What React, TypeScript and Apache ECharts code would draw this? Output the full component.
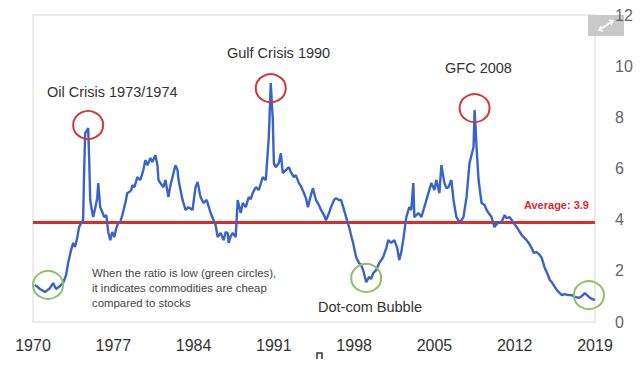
import React, { useEffect, useRef } from "react";
import * as echarts from "echarts";

// Commodity / stock ratio: [year, ratio]
const seventies: [number, number][] = [
  [1970.17, 1.45], [1970.61, 1.29], [1971.05, 1.17], [1971.49, 1.33], [1971.75, 1.52],
  [1972.01, 1.29], [1972.36, 1.41], [1972.62, 1.52], [1972.89, 1.84], [1973.06, 2.3],
  [1973.32, 2.81], [1973.5, 3.09], [1973.67, 2.93], [1973.85, 3.28], [1974.02, 3.71],
  [1974.2, 3.87], [1974.37, 3.98], [1974.46, 5.94], [1974.55, 7.38], [1974.72, 7.5],
  [1974.81, 7.58], [1974.9, 6.33], [1974.99, 4.77], [1975.16, 4.3], [1975.25, 4.1],
  [1975.42, 4.45], [1975.6, 4.84], [1975.69, 5.43], [1975.86, 4.49], [1976.04, 4.3],
  [1976.21, 4.1], [1976.39, 4.18], [1976.56, 3.52], [1976.74, 3.2], [1976.91, 3.52],
  [1977.09, 3.32], [1977.26, 3.67], [1977.44, 3.87], [1977.61, 3.91], [1977.79, 4.18],
  [1978.05, 4.65], [1978.22, 5.04], [1978.4, 5.08], [1978.57, 5.16], [1978.66, 5.35],
  [1978.84, 5.27], [1979.1, 5.66], [1979.36, 5.55], [1979.62, 5.94], [1979.8, 6.33],
  [1979.97, 6.13],
];
const eighties: [number, number][] = [
  [1980.24, 6.41], [1980.41, 6.25], [1980.67, 6.52], [1980.85, 6.13], [1980.94, 5.55],
  [1981.11, 5.43], [1981.37, 5.27], [1981.55, 5.55], [1981.81, 4.88], [1981.99, 5.35],
  [1982.16, 5.66], [1982.42, 6.13], [1982.6, 5.94], [1982.69, 5.55], [1982.86, 5.16],
  [1983.04, 4.77], [1983.3, 4.38], [1983.56, 4.49], [1983.91, 4.38], [1984.17, 5.27],
  [1984.35, 5.47], [1984.61, 4.88], [1984.87, 4.65], [1985.14, 4.77], [1985.49, 4.26],
  [1985.75, 3.98], [1985.92, 3.79], [1986.1, 3.32], [1986.36, 3.48], [1986.62, 3.2],
  [1986.8, 3.52], [1986.97, 3.48], [1987.06, 3.09], [1987.24, 3.36], [1987.41, 3.48],
  [1987.67, 3.32], [1987.85, 4.77], [1988.11, 4.26], [1988.29, 4.65], [1988.55, 4.49],
  [1988.81, 4.88], [1988.99, 4.8], [1989.16, 5.04], [1989.42, 5.27], [1989.69, 5.16],
];
const nineties: [number, number][] = [
  [1990.03, 5.66], [1990.3, 5.55], [1990.56, 7.23], [1990.73, 9.34], [1990.91, 7.89],
  [1991.0, 6.21], [1991.17, 6.05], [1991.43, 6.21], [1991.61, 6.6], [1991.78, 5.82],
  [1992.05, 5.94], [1992.31, 6.05], [1992.48, 5.86], [1992.75, 5.66], [1992.92, 5.74],
  [1993.18, 5.43], [1993.36, 5.31], [1993.62, 5.04], [1993.8, 4.84], [1993.97, 4.49],
  [1994.23, 4.96], [1994.41, 5.23], [1994.67, 4.77], [1994.93, 4.57], [1995.11, 4.38],
  [1995.37, 4.18], [1995.55, 3.98], [1995.81, 4.26], [1995.98, 4.49], [1996.25, 4.77],
  [1996.42, 4.84], [1996.68, 4.77], [1996.86, 4.77], [1997.12, 4.38], [1997.3, 4.1],
  [1997.56, 3.71], [1997.73, 3.4], [1997.91, 3.09], [1998.17, 2.54], [1998.43, 2.3],
  [1998.61, 2.23], [1998.78, 2.03], [1998.96, 1.72], [1999.05, 1.56], [1999.31, 1.76],
  [1999.48, 1.68], [1999.66, 1.91], [1999.92, 2.03],
];
const noughties: [number, number][] = [
  [2000.18, 2.3], [2000.36, 2.42], [2000.53, 2.54], [2000.8, 2.89], [2000.97, 3.2],
  [2001.23, 3.09], [2001.5, 3.2], [2001.76, 2.89], [2001.93, 2.42], [2002.11, 2.73],
  [2002.28, 3.2], [2002.55, 4.1], [2002.81, 4.49], [2002.98, 4.38], [2003.16, 5.43],
  [2003.25, 4.1], [2003.42, 4.18], [2003.6, 4.26], [2003.86, 4.1], [2004.12, 4.49],
  [2004.47, 5.04], [2004.73, 5.43], [2005.0, 5.16], [2005.17, 5.55], [2005.43, 5.04],
  [2005.61, 6.13], [2005.87, 5.43], [2006.05, 5.23], [2006.22, 5.27], [2006.48, 5.55],
  [2006.66, 4.77], [2006.92, 4.1], [2007.18, 3.91], [2007.36, 3.98], [2007.53, 4.1],
  [2007.8, 4.88], [2008.06, 6.21], [2008.23, 6.52], [2008.41, 6.84], [2008.5, 8.28],
  [2008.58, 7.7], [2008.67, 6.84], [2008.85, 5.55], [2009.11, 4.65], [2009.37, 4.57],
  [2009.55, 4.38], [2009.72, 4.26], [2009.98, 4.1],
];
const tens: [number, number][] = [
  [2010.24, 3.71], [2010.42, 3.83], [2010.59, 3.87], [2010.86, 3.91], [2011.12, 4.18],
  [2011.29, 4.06], [2011.56, 4.1], [2011.91, 3.87], [2012.17, 3.71], [2012.34, 3.59],
  [2012.61, 3.4], [2012.78, 3.32], [2013.04, 3.2], [2013.22, 3.09], [2013.48, 2.89],
  [2013.66, 2.7], [2013.92, 2.73], [2014.18, 2.62], [2014.36, 2.5], [2014.62, 2.11],
  [2014.79, 1.95], [2015.06, 1.64], [2015.23, 1.56], [2015.49, 1.37], [2015.67, 1.25],
  [2015.84, 1.17], [2016.11, 1.05], [2016.37, 1.09], [2016.63, 1.05], [2016.98, 1.05],
  [2017.24, 0.98], [2017.59, 0.94], [2017.86, 1.02], [2018.12, 1.13], [2018.47, 0.98],
  [2018.73, 0.9], [2019.0, 0.86],
];

const yearTicks = [1970, 1977, 1984, 1991, 1998, 2005, 2012, 2019];
const averageRatio = 3.9;

// Annotation anchors in data space: [year, ratio]
const peakCircles: [number, number][] = [[1974.81, 7.7], [1990.73, 9.14], [2008.5, 8.36]];
const lowCircles: [number, number][] = [[1971.31, 1.45], [1999.05, 1.72], [2018.47, 1.05]];

const FONT = "'Liberation Sans', Arial, sans-serif";

export default function App() {
  const ref = useRef<HTMLDivElement>(null);
  useEffect(() => {
    if (!ref.current) return;
    const chart = echarts.init(ref.current, null, { renderer: "svg" });
    const data = [...seventies, ...eighties, ...nineties, ...noughties, ...tens];
    const circle = (c: [number, number], color: string) => ({
      coord: c,
      symbol: "circle",
      symbolSize: [30, 28],
      itemStyle: { color: "rgba(0,0,0,0)", borderColor: color, borderWidth: 2 },
      label: { show: false },
    });
    chart.setOption({
      animation: false,
      backgroundColor: "#ffffff",
      grid: {
        left: 33,
        right: 45,
        top: 15,
        bottom: 47,
        show: true,
        borderColor: "#ebebeb",
        borderWidth: 2,
        backgroundColor: "#ffffff",
      },
      xAxis: {
        type: "value",
        min: 1970,
        max: 2019,
        interval: 7,
        axisLine: { show: false },
        axisTick: { show: false },
        splitLine: { show: false },
        axisLabel: {
          margin: 15,
          color: "#333",
          fontSize: 16,
          fontFamily: FONT,
          customValues: yearTicks,
          formatter: (v: number) => String(v),
        },
      },
      yAxis: {
        type: "value",
        position: "right",
        min: 0,
        max: 12,
        interval: 2,
        axisLine: { show: false },
        axisTick: { show: false },
        splitLine: { show: false },
        axisLabel: { margin: 20, color: "#666", fontSize: 16, fontFamily: FONT },
      },
      series: [
        {
          type: "line",
          data,
          showSymbol: false,
          lineStyle: { color: "#3a63c9", width: 2.4 },
          z: 3,
          markLine: {
            silent: true,
            symbol: ["none", "none"],
            lineStyle: { color: "#e02a2a", width: 3, type: "solid" },
            label: {
              show: true,
              position: "insideEndTop",
              distance: [6, 12],
              formatter: "Average: 3.9",
              color: "#e02a2a",
              fontWeight: "bold",
              fontSize: 11,
              fontFamily: FONT,
            },
            data: [{ yAxis: averageRatio }],
            z: 2,
          },
          markPoint: {
            silent: true,
            data: [
              ...peakCircles.map((c) => circle(c, "#d23a3a")),
              ...lowCircles.map((c) => circle(c, "#8dc06a")),
            ],
          },
        },
      ],
      graphic: [
        { type: "text", left: 47, top: 84, style: { text: "Oil Crisis 1973/1974", fill: "#333", fontSize: 14.5, fontFamily: FONT } },
        { type: "text", left: 227, top: 45, style: { text: "Gulf Crisis 1990", fill: "#333", fontSize: 14.5, fontFamily: FONT } },
        { type: "text", left: 445, top: 60, style: { text: "GFC 2008", fill: "#333", fontSize: 14.5, fontFamily: FONT } },
        { type: "text", left: 318, top: 299, style: { text: "Dot-com Bubble", fill: "#333", fontSize: 14.5, fontFamily: FONT } },
        {
          type: "text",
          left: 92,
          top: 265,
          style: {
            text: "When the ratio is low (green circles),\nit indicates commodities are cheap\ncompared to stocks",
            fill: "#444",
            fontSize: 11.4,
            lineHeight: 15,
            fontFamily: FONT,
          },
        },
        {
          type: "group",
          left: 588,
          top: 15,
          children: [
            { type: "rect", shape: { x: 0, y: 0, width: 36, height: 21 }, style: { fill: "#c9c9c9" } },
            { type: "line", shape: { x1: 11, y1: 15, x2: 25, y2: 6 }, style: { stroke: "#fff", lineWidth: 1.5 } },
            { type: "polyline", shape: { points: [[15, 16], [11, 15], [13, 11]] }, style: { stroke: "#fff", fill: "none", lineWidth: 1.5 } },
            { type: "polyline", shape: { points: [[21, 5], [25, 6], [23, 10]] }, style: { stroke: "#fff", fill: "none", lineWidth: 1.5 } },
          ],
        },
        {
          type: "polyline",
          shape: { points: [[317, 359], [317, 353], [322, 353], [322, 359]] },
          style: { stroke: "#333", fill: "none", lineWidth: 1.5 },
        },
      ],
    });
    return () => chart.dispose();
  }, []);
  return (
    <div
      ref={ref}
      style={{ position: "fixed", left: 0, top: 0, width: 640, height: 369, background: "#fff" }}
    />
  );
}
